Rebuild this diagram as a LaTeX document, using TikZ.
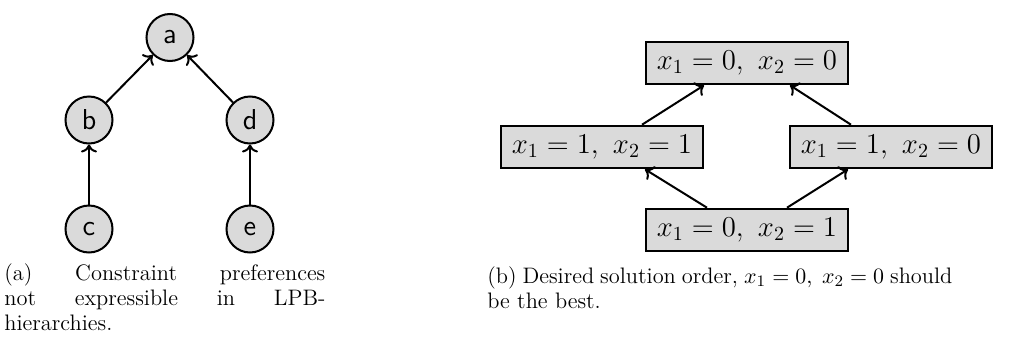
\documentclass[tikz,border=0pt]{standalone}
\usetikzlibrary{arrows.meta}
\definecolor{nodegray}{RGB}{218,218,218}
\tikzset{
  circnode/.style={circle, draw=black, line width=1pt, fill=nodegray, minimum size=23.5pt, inner sep=0pt, font=\sffamily\Large},
  boxnode/.style={rectangle, draw=black, line width=1.3pt, fill=nodegray, minimum width=101pt, minimum height=21pt, inner sep=0pt, font=\Large},
  conn/.style={line width=1pt, -{To[length=4pt,width=8pt]}},
  captext/.style={anchor=base west, inner sep=0pt, align=justify, font=\fontsize{11.2}{12.5}\selectfont}
}
\begin{document}
\begin{tikzpicture}[x=0.5pt,y=-0.5pt]
\useasboundingbox (0,0) rectangle (1022,343);
% left graph
\node[circnode] (a) at (170,37.5) {a};
\node[circnode] (b) at (89,120) {b};
\node[circnode] (d) at (250,120) {d};
\node[circnode] (c) at (89,229) {c};
\node[circnode] (e) at (250,229) {e};
\draw[conn] (b) -- (a);
\draw[conn] (d) -- (a);
\draw[conn] (c) -- (b);
\draw[conn] (e) -- (d);
\node[captext, text width=160.5pt] (capa) at (4,280) {(a) Constraint preferences\linebreak not expressible in LPB-\linebreak hierarchies.};
% right graph
\node[boxnode] (t) at (747,63) {$x_1=0,\ x_2=0$};
\node[boxnode] (l) at (602,147) {$x_1=1,\ x_2=1$};
\node[boxnode] (r) at (891,147) {$x_1=1,\ x_2=0$};
\node[boxnode] (bt) at (747,230) {$x_1=0,\ x_2=1$};
\draw[conn] ([xshift=20pt]l.north) -- ([xshift=-21.5pt]t.south);
\draw[conn] ([xshift=-20pt]r.north) -- ([xshift=21.5pt]t.south);
\draw[conn] ([xshift=-20pt]bt.north) -- ([xshift=21.5pt]l.south);
\draw[conn] ([xshift=20pt]bt.north) -- ([xshift=-21.5pt]r.south);
\node[captext, text width=232.5pt] (capb) at (487,283) {(b) Desired solution order, $x_1=0,\ x_2=0$ should\linebreak be the best.};
\end{tikzpicture}
\end{document}
